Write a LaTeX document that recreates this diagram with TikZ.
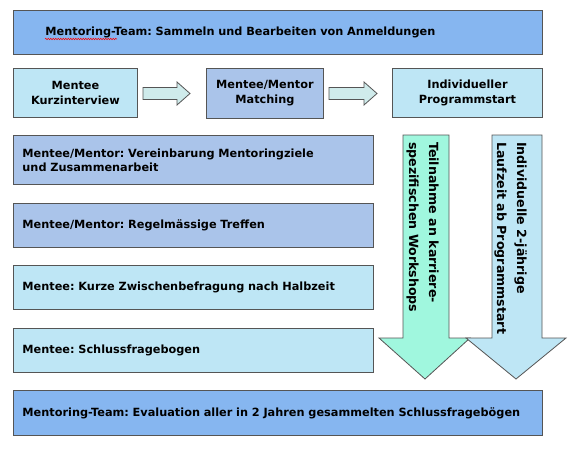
\documentclass[tikz,border=0pt]{standalone}
\usepackage{fontspec}
\setmainfont{DejaVu Sans}
\frenchspacing
\usetikzlibrary{decorations.pathmorphing}
\definecolor{barblue}{HTML}{86B6F0}
\definecolor{lightcyan}{HTML}{BEE6F5}
\definecolor{peri}{HTML}{AAC4EA}
\definecolor{aqua}{HTML}{A0F7DE}
\definecolor{arrfill}{HTML}{CFEBEB}
\definecolor{edge}{HTML}{555555}
\tikzset{
  box/.style={draw=edge, line width=0.9pt, rectangle, anchor=north west, font=\bfseries\fontsize{11.3}{13}\selectfont, inner ysep=0pt},
  centerbox/.style={box, align=center},
  leftbox/.style={box, align=left, inner xsep=9pt},
  harrow/.style={draw=edge, line width=0.8pt, fill=arrfill},
  varrow/.style={draw=edge, line width=0.8pt},
  vtext/.style={rotate=-90, anchor=north west, align=left, inner sep=0pt, font=\bfseries\fontsize{12.6}{15}\selectfont},
}
\begin{document}
\begin{tikzpicture}[x=1pt,y=-1pt]
\useasboundingbox (0,0) rectangle (574,453);
\fill[white] (0,0) rectangle (574,453);
% top bar
\node[box, fill=barblue, minimum width=529pt, minimum height=44pt, align=left, inner xsep=32pt, text width=465pt] (top) at (13,10) {Mentoring-Team: Sammeln und Bearbeiten von Anmeldungen};
\draw[red, line width=0.5pt, decorate, decoration={snake, amplitude=0.8pt, segment length=2.5pt}] (45,39) -- (117,39);
% second row
\node[centerbox, fill=lightcyan, minimum width=124pt, minimum height=49pt] (k1) at (13,68) {Mentee\\[2pt]Kurzinterview};
\node[centerbox, fill=peri, minimum width=117pt, minimum height=50pt] (k2) at (206,68) {Mentee/Mentor\\[2pt]Matching};
\node[centerbox, fill=lightcyan, minimum width=150pt, minimum height=49pt] (k3) at (392,68) {Individueller\\[2pt]Programmstart};
\draw[harrow] (143,87.5) -- (177,87.5) -- (177,82) -- (190,93.5) -- (177,105) -- (177,99.5) -- (143,99.5) -- cycle;
\draw[harrow] (329,87.5) -- (364,87.5) -- (364,82) -- (377,93.5) -- (364,105) -- (364,99.5) -- (329,99.5) -- cycle;
% left rows
\node[leftbox, fill=peri, minimum width=360pt, minimum height=49pt, text width=342pt] (r1) at (13,135) {Mentee/Mentor: Vereinbarung Mentoringziele\\[1pt]und Zusammenarbeit};
\node[leftbox, fill=peri, minimum width=360pt, minimum height=44pt, text width=342pt] (r2) at (13,203) {Mentee/Mentor: Regelmässige Treffen};
\node[leftbox, fill=lightcyan, minimum width=360pt, minimum height=44pt, text width=342pt] (r3) at (13,265) {Mentee: Kurze Zwischenbefragung nach Halbzeit};
\node[leftbox, fill=lightcyan, minimum width=360pt, minimum height=44pt, text width=342pt] (r4) at (13,328) {Mentee: Schlussfragebogen};
\node[leftbox, fill=barblue, minimum width=529pt, minimum height=45pt, text width=511pt] (bot) at (13,390) {Mentoring-Team: Evaluation aller in 2 Jahren gesammelten Schlussfragebögen};
% vertical arrows
\draw[varrow, fill=aqua] (403,135) -- (449,135) -- (449,338) -- (470,338) -- (425,379) -- (379,338) -- (403,338) -- cycle;
\node[vtext] (t1) at (439,142) {Teilnahme an karriere-\\[5pt]spezifischen Workshops};
\draw[varrow, fill=lightcyan] (492,135) -- (542,135) -- (542,338) -- (566,338) -- (516,379) -- (466,338) -- (492,338) -- cycle;
\node[vtext] (t2) at (527,142) {Individuelle 2-jährige\\[5pt]Laufzeit ab Programmstart};
\end{tikzpicture}
\end{document}
